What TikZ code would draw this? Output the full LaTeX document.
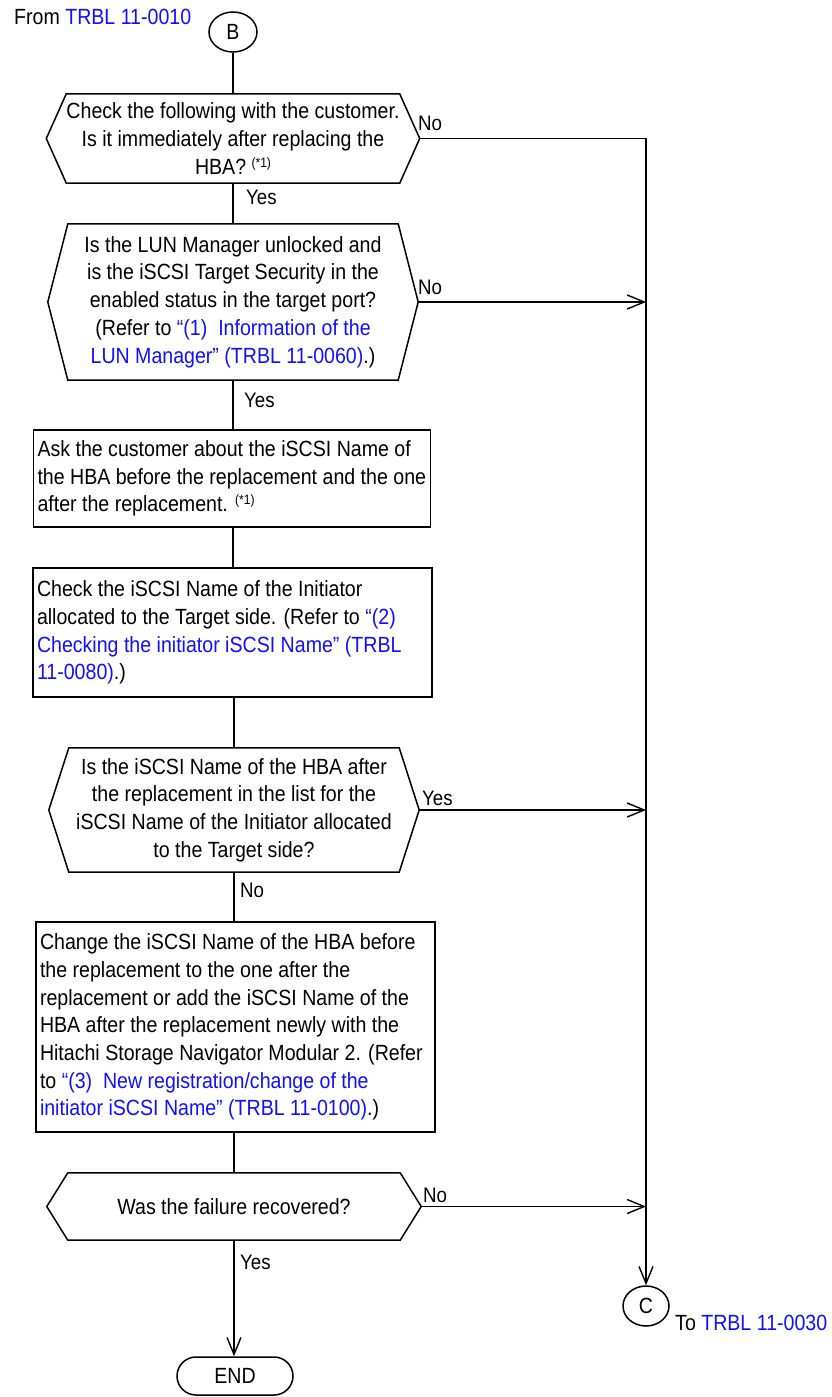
\documentclass[tikz,border=0pt]{standalone}
\usepackage{fontspec}
\setmainfont{Liberation Sans}[FakeStretch=0.89]
\usetikzlibrary{shapes.geometric,shapes.misc,arrows.meta,calc}
\definecolor{lnk}{RGB}{16,16,255}
\newcommand{\lk}[1]{\textcolor{lnk}{#1}}
\newcommand{\supn}{\raisebox{7pt}{\fontsize{13.5}{13.5}\selectfont(*1)}}
\newcommand{\lineL}[1]{\mbox{#1}\\}
\begin{document}
\begin{tikzpicture}[x=1pt,y=-1pt,
  every node/.style={font=\fontsize{22}{27.7}\selectfont, inner sep=0pt},
  lw/.style={line width=1.5pt},
  dtext/.style={align=center, inner sep=0pt},
  hexline/.style={line width=1.5pt, line join=miter},
  boxnode/.style={draw, line width=1.5pt, align=flush left, inner xsep=4pt, inner ysep=0pt},
  lbl/.style={font=\fontsize{21}{24}\selectfont, anchor=base west},
  conn/.style={line width=1.5pt},
  arr/.style={line width=1.5pt, -{Straight Barb[length=17pt,width=14pt,line width=1.4pt]}}]
\useasboundingbox (0,0) rectangle (832,1397);

% start connector and source label
\node[draw, ellipse, lw, minimum width=48pt, minimum height=40pt] (B) at (233,32) {B};
\node[anchor=base west] (from) at (14,25) {From \lk{TRBL 11-0010}};

% decision 1
\node[dtext, minimum width=330pt, minimum height=89pt] (d1) at (233,138.5)
  {Check the following with the customer.\\Is it immediately after replacing the\\HBA? \supn};
\coordinate (d1e) at ($(d1.east)+(20,0)$);
\coordinate (d1w) at ($(d1.west)+(-20,0)$);
\draw[hexline] (d1.north west) -- (d1.north east) -- (d1e) -- (d1.south east) -- (d1.south west) -- (d1w) -- cycle;

% decision 2
\node[dtext, minimum width=330pt, minimum height=156pt] (d2) at (233,302)
  {Is the LUN Manager unlocked and\\is the iSCSI Target Security in the\\enabled status in the target port?\\(Refer to \lk{“(1)\ \ Information of the}\\\lk{LUN Manager” (TRBL 11-0060)}.)};
\coordinate (d2e) at ($(d2.east)+(20,0)$);
\coordinate (d2w) at ($(d2.west)+(-20,0)$);
\draw[hexline] (d2.north west) -- (d2.north east) -- (d2e) -- (d2.south east) -- (d2.south west) -- (d2w) -- cycle;

% box 3
\node[boxnode, minimum height=97pt, text width=389pt] (b3) at (232,478.5)
  {\lineL{Ask the customer about the iSCSI Name of}\lineL{the HBA before the replacement and the one}\mbox{after the replacement. \supn}};

% box 4
\node[boxnode, minimum height=129pt, text width=391pt] (b4) at (232.5,632.5)
  {\lineL{Check the iSCSI Name of the Initiator}\lineL{allocated to the Target side. (Refer to \lk{“(2)}}\lineL{\lk{Checking the initiator iSCSI Name” (TRBL}}\mbox{\lk{11-0080)}.)}};

% decision 5
\node[dtext, minimum width=330pt, minimum height=124pt] (d5) at (234,810)
  {Is the iSCSI Name of the HBA after\\the replacement in the list for the\\iSCSI Name of the Initiator allocated\\to the Target side?};
\coordinate (d5e) at ($(d5.east)+(20,0)$);
\coordinate (d5w) at ($(d5.west)+(-20,0)$);
\draw[hexline] (d5.north west) -- (d5.north east) -- (d5e) -- (d5.south east) -- (d5.south west) -- (d5w) -- cycle;

% box 6
\node[boxnode, minimum height=210pt, text width=391pt] (b6) at (235.5,1027)
  {\lineL{Change the iSCSI Name of the HBA before}\lineL{the replacement to the one after the}\lineL{replacement or add the iSCSI Name of the}\lineL{HBA after the replacement newly with the}\lineL{Hitachi Storage Navigator Modular 2. (Refer}\lineL{to \lk{“(3)\ \ New registration/change of the}}\mbox{\lk{initiator iSCSI Name” (TRBL 11-0100)}.)}};

% decision 7
\node[dtext, minimum width=332pt, minimum height=67pt] (d7) at (234,1206.5)
  {Was the failure recovered?};
\coordinate (d7e) at ($(d7.east)+(21,0)$);
\coordinate (d7w) at ($(d7.west)+(-21,0)$);
\draw[hexline] (d7.north west) -- (d7.north east) -- (d7e) -- (d7.south east) -- (d7.south west) -- (d7w) -- cycle;

% terminals
\node[draw, rounded rectangle, lw, minimum width=116pt, minimum height=38pt] (end) at (235,1376) {END};
\node[draw, ellipse, lw, minimum width=46pt, minimum height=40pt] (C) at (646,1306) {C};
\node[anchor=base west] (to) at (675,1330) {To \lk{TRBL 11-0030}};

% main flow
\draw[conn] (B.south) -- (B.south |- d1.north);
\draw[conn] (d1.south) -- (d1.south |- d2.north);
\draw[conn] (d2.south) -- (d2.south |- b3.north);
\draw[conn] (d2.south |- b3.south) -- (d2.south |- b4.north);
\draw[conn] (d5.north |- b4.south) -- (d5.north);
\draw[conn] (d5.south) -- (d5.south |- b6.north);
\draw[conn] (d7.north |- b6.south) -- (d7.north);
\draw[arr] (d7.south) -- (d7.south |- end.north);

% right rail
\draw[arr] (d1e) -| (C.north);
\draw[arr] (d2e) -- (d2e -| C.north);
\draw[arr] (d5e) -- (d5e -| C.north);
\draw[arr] (d7e) -- (d7e -| C.north);

% branch labels
\node[lbl] (n1) at (418,130.5) {No};
\node[lbl] (y1) at (246,204.5) {Yes};
\node[lbl] (n2) at (418,294.5) {No};
\node[lbl] (y2) at (244,407.5) {Yes};
\node[lbl] (y5) at (422,805.5) {Yes};
\node[lbl] (n5) at (240,897.5) {No};
\node[lbl] (n7) at (423,1202.5) {No};
\node[lbl] (y7) at (240,1269.5) {Yes};
\end{tikzpicture}
\end{document}
